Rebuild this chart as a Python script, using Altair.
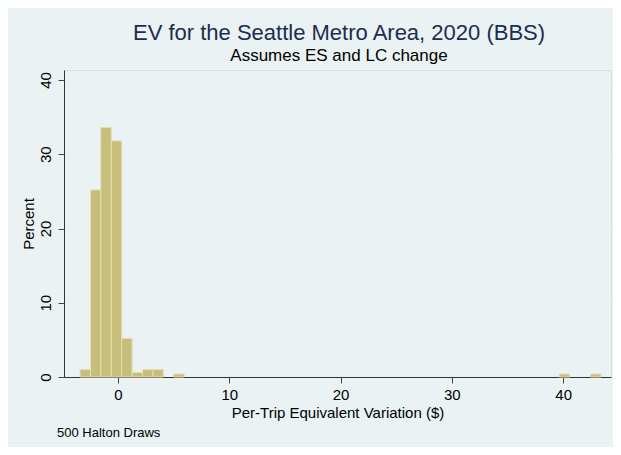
import altair as alt
import pandas as pd

# Histogram bins (left edges), percent of 500 draws
bin_start = [-3.41, -2.47, -1.54, -0.60, 0.33, 1.27, 2.21, 3.14, 5.01, 39.65, 42.46]
percent = [1.0, 25.2, 33.6, 31.8, 5.2, 0.6, 1.0, 1.0, 0.4, 0.4, 0.4]
bin_width = 0.936
x_ticks = [0, 10, 20, 30, 40]
y_ticks = [0, 10, 20, 30, 40]

title_text = "EV for the Seattle Metro Area, 2020 (BBS)"
subtitle_text = "Assumes ES and LC change"
note_text = "500 Halton Draws"

df = pd.DataFrame({"start": bin_start, "pct": percent})
df["end"] = df["start"] + bin_width

W, H = 547, 307
FONT = "Liberation Sans"

xs = alt.Scale(domain=[-4.85, 44.3], nice=False, zero=False)
ys = alt.Scale(domain=[0, 41.35], nice=False)

bars = alt.Chart(df).mark_rect(
    fill="#c8be7c", stroke="#e4ddb0", strokeWidth=1
).encode(
    x=alt.X("start:Q", scale=xs, axis=alt.Axis(
        values=x_ticks, title="Per-Trip Equivalent Variation ($)", grid=False,
        labelFontSize=15, labelColor="black", labelPadding=16,
        labelBaseline="alphabetic", labelFlush=False, tickSize=6,
        tickColor="#444444", domainColor="#333333", labelFont=FONT,
        titleFont=FONT, titleFontSize=15, titleFontWeight="normal",
        titleColor="black", titleY=40, titleBaseline="alphabetic")),
    x2="end:Q",
    y=alt.Y("pct:Q", scale=ys, axis=alt.Axis(
        values=y_ticks, title="Percent", grid=True, gridColor="#e8f0f1",
        labelFontSize=15, labelColor="black", labelAngle=270,
        labelAlign="center", labelBaseline="alphabetic", labelPadding=8,
        labelFlush=False, tickSize=6, tickColor="#444444",
        domainColor="#333333", labelFont=FONT, titleFont=FONT,
        titleFontSize=15, titleFontWeight="normal", titleColor="black",
        titleAngle=270, titleX=-30.5, titleY=H / 2, titleAlign="center",
        titleBaseline="alphabetic")),
    y2=alt.datum(0),
)

one = alt.Data(values=[{"k": 1}])

title = alt.Chart(one).mark_text(
    font=FONT, fontSize=22, color="#1e2c50", align="center",
    baseline="alphabetic"
).encode(x=alt.value(275), y=alt.value(-30), text=alt.value(title_text))

subtitle = alt.Chart(one).mark_text(
    font=FONT, fontSize=17, color="black", align="center",
    baseline="alphabetic"
).encode(x=alt.value(275), y=alt.value(-9), text=alt.value(subtitle_text))

note = alt.Chart(one).mark_text(
    font=FONT, fontSize=13, color="black", align="left",
    baseline="alphabetic"
).encode(x=alt.value(-7), y=alt.value(H + 60), text=alt.value(note_text))

chart = alt.layer(bars, title, subtitle, note).properties(
    width=W, height=H,
    autosize=alt.AutoSizeParams(type="none"),
    padding={"left": 56, "top": 62, "right": 2, "bottom": 70},
    background="#eaf2f3",
).configure_view(fill="white", strokeWidth=0).configure(font=FONT)

chart.save("out.html", embed_options={"renderer": "svg", "actions": False})
